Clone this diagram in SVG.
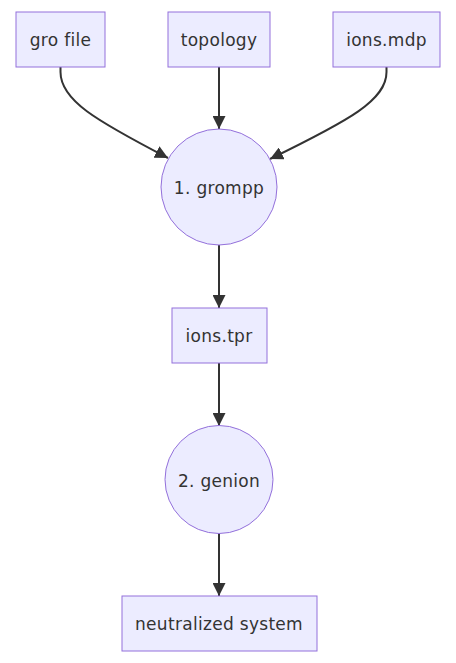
<svg xmlns="http://www.w3.org/2000/svg" width="456" height="663" viewBox="0 0 456 663">
<style>
.node rect,.node circle{fill:#ECECFF;stroke:#9370DB;stroke-width:1}
.node text{font-family:"DejaVu Sans","Liberation Sans",sans-serif;font-size:17px;letter-spacing:0.3px;fill:#333;text-anchor:middle;dominant-baseline:central}
.edge{fill:none;stroke:#333;stroke-width:2}
</style>
<defs>
<marker id="arr" viewBox="0 0 10 10" refX="10" refY="5" markerWidth="13" markerHeight="13" markerUnits="userSpaceOnUse" orient="auto">
<path d="M0,0 L10,5 L0,10 z" fill="#333"/>
</marker>
</defs>
<rect width="456" height="663" fill="#fff"/>
<g id="connectors">
<path class="edge" d="M60.5,67 L60.5,72 C60.5,100 95,120 168,158" marker-end="url(#arr)"/>
<path class="edge" d="M219,67 L219,129" marker-end="url(#arr)"/>
<path class="edge" d="M386.5,67 L386.5,72 C386.5,100 350,120 270,159" marker-end="url(#arr)"/>
<path class="edge" d="M219,245 L219,308" marker-end="url(#arr)"/>
<path class="edge" d="M219,363 L219,426" marker-end="url(#arr)"/>
<path class="edge" d="M219,533 L219,596" marker-end="url(#arr)"/>
</g>
<g id="gro" class="node"><rect x="16" y="12" width="89" height="55"/><text x="60.5" y="40">gro file</text></g>
<g id="topology" class="node"><rect x="168" y="12" width="102" height="55"/><text x="219" y="40">topology</text></g>
<g id="ionsmdp" class="node"><rect x="333" y="12" width="107" height="55"/><text x="386.5" y="40">ions.mdp</text></g>
<g id="grompp" class="node"><circle cx="219" cy="187" r="58"/><text x="219" y="188">1. grompp</text></g>
<g id="ionstpr" class="node"><rect x="172" y="308" width="95" height="55"/><text x="219" y="336">ions.tpr</text></g>
<g id="genion" class="node"><circle cx="219" cy="479.5" r="54"/><text x="219" y="481">2. genion</text></g>
<g id="neutral" class="node"><rect x="122" y="596" width="195" height="55"/><text x="219" y="624">neutralized system</text></g>
</svg>
